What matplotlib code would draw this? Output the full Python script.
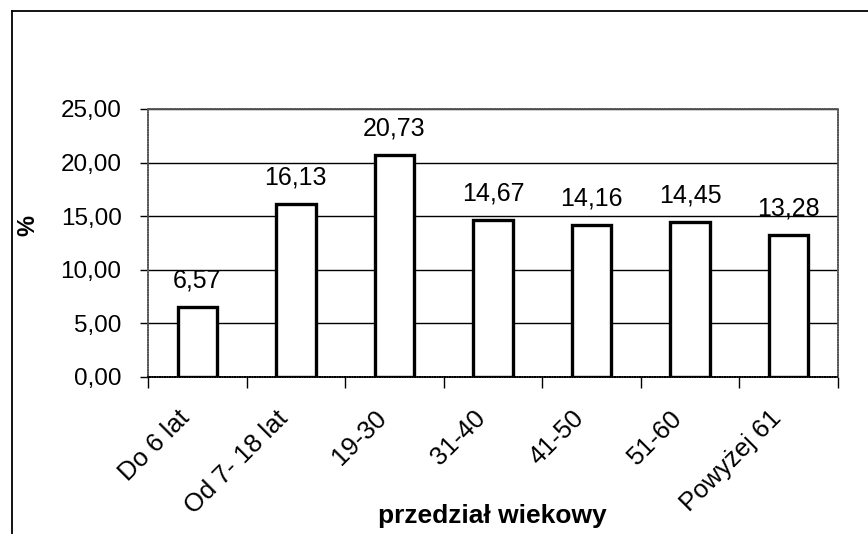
import matplotlib.pyplot as plt
import matplotlib.transforms as mtransforms
from matplotlib.lines import Line2D

categories = ["Do 6 lat", "Od 7- 18 lat", "19-30", "31-40", "41-50", "51-60", "Powyżej 61"]
values = [6.57, 16.13, 20.73, 14.67, 14.16, 14.45, 13.28]
value_labels = ["6,57", "16,13", "20,73", "14,67", "14,16", "14,45", "13,28"]
yticks = [0, 5, 10, 15, 20, 25]
ytick_labels = ["0,00", "5,00", "10,00", "15,00", "20,00", "25,00"]

plt.rcParams['font.family'] = ['Liberation Sans', 'DejaVu Sans']

fig = plt.figure(figsize=(8.68, 5.34), dpi=100)
ax = fig.add_axes([148 / 868, 1 - 377 / 534, 690 / 868, 268 / 534])

pos = [i + 0.5 for i in range(len(categories))]
ax.bar(pos, values, width=0.4, color='white', edgecolor='black', linewidth=2.4, zorder=3)

for x, v, lab in zip(pos, values, value_labels):
    ax.annotate(lab, (x, v), xytext=(0, 14), textcoords='offset points',
                ha='center', va='baseline', fontsize=18, zorder=4)

ax.set_xlim(0, len(categories))
ax.set_ylim(0, 25)
ax.set_yticks(yticks)
ax.set_yticklabels(ytick_labels, fontsize=17.5)
ax.tick_params(axis='y', length=6, width=1, pad=13)

# category boundaries get the tick marks, centres get the labels
ax.set_xticks(range(len(categories) + 1))
ax.set_xticklabels([])
ax.tick_params(axis='x', which='major', length=8, width=1)
ax.set_xticks(pos, minor=True)
ax.set_xticklabels(categories, minor=True, rotation=45, ha='right', va='top',
                   rotation_mode='anchor', fontsize=18.5)
ax.tick_params(axis='x', which='minor', length=0, pad=21)
shift = mtransforms.ScaledTranslation(-20 / 100, 0, fig.dpi_scale_trans)
for lbl in ax.get_xticklabels(minor=True):
    lbl.set_transform(lbl.get_transform() + shift)

ax.yaxis.grid(True, color='black', linewidth=1, zorder=1)
for s in ax.spines.values():
    s.set_color('#555555')
    s.set_linewidth(1.2)
    s.set_linestyle((0, (1, 0.5)))
ax.spines['bottom'].set_color('black')

fig.text(28 / 868, 1 - 226 / 534, "%", rotation=90, fontsize=17, fontweight='bold',
         ha='center', va='center')
fig.text(492 / 868, 1 - 516 / 534, "przedział wiekowy", fontsize=19, fontweight='bold',
         ha='center', va='center')

# outer chart frame (top and left edges visible in the scan)
fig.add_artist(Line2D([12 / 868, 12 / 868], [0, 1 - 11 / 534], transform=fig.transFigure,
                      color='black', linewidth=1.3))
fig.add_artist(Line2D([12 / 868, 1], [1 - 11 / 534, 1 - 11 / 534], transform=fig.transFigure,
                      color='black', linewidth=1.3))

fig.savefig("out.png", dpi=100)
